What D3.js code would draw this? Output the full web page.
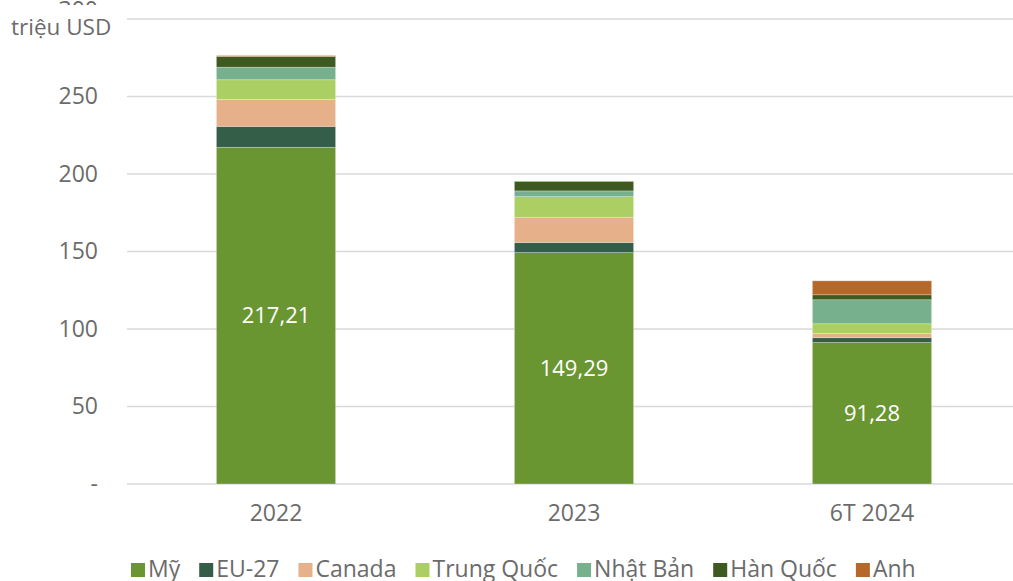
<!DOCTYPE html>
<html>
<head>
<meta charset="utf-8">
<script src="https://cdn.jsdelivr.net/npm/d3@7"></script>
<style>
  body { margin: 0; background: #fff; }
  text { font-family: "Open Sans", sans-serif; }
</style>
</head>
<body>
<div id="chart-area"></div>
<script>
// data
const years = ["2022", "2023", "6T 2024"];
const series = ["Mỹ", "EU-27", "Canada", "Trung Quốc", "Nhật Bản", "Hàn Quốc", "Anh"];
const my      = [217.21, 149.29, 91.28];
const eu27    = [13.5, 6.5, 3.1];
const canada  = [17.4, 16.3, 2.8];
const trungQuoc = [12.7, 13.3, 6.2];
const nhatBan = [8.1, 3.7, 15.5];
const hanQuoc = [6.9, 6.0, 3.2];
const anh     = [0.6, 0.4, 9.0];
const yTicks = [0, 50, 100, 150, 200, 250, 300];
const colors = ["#6a9632", "#355e48", "#e6b08a", "#abcf62", "#76b08c", "#3e5a20", "#b5682a"];

const W = 1013, H = 581;
let margin = { lft: 127, rht: 0, top: 19, bot: 97 };
let width = W - margin.lft - margin.rht;
let height = H - margin.top - margin.bot;

let svg = d3.select("#chart-area")
  .append("svg")
    .attr("width", W)
    .attr("height", H);

let g = svg.append("g")
  .attr("transform", `translate(${margin.lft}, ${margin.top})`);

// table for stacking
let table = years.map((yr, i) => ({
  year: yr,
  "Mỹ": my[i], "EU-27": eu27[i], "Canada": canada[i], "Trung Quốc": trungQuoc[i],
  "Nhật Bản": nhatBan[i], "Hàn Quốc": hanQuoc[i], "Anh": anh[i]
}));
let stacked = d3.stack().keys(series)(table);

let x = d3.scaleBand()
  .domain(years)
  .range([0, 894])
  .paddingInner(0.6)
  .paddingOuter(0.3);

let y = d3.scaleLinear()
  .domain([0, 300])
  .range([height, 0]);

let color = d3.scaleOrdinal().domain(series).range(colors);

// gridlines
g.append("g")
  .selectAll("line")
  .data(yTicks)
  .enter().append("line")
    .attr("x1", 0)
    .attr("x2", W - margin.lft)
    .attr("y1", d => y(d))
    .attr("y2", d => y(d))
    .attr("stroke", "#d9d9d9")
    .attr("stroke-width", 1.5);

// y axis
let yAxisCall = d3.axisLeft(y)
  .tickValues(yTicks)
  .tickSize(0)
  .tickPadding(29)
  .tickFormat(d => d === 0 ? "-" : d);
let yAxis = g.append("g").call(yAxisCall);
yAxis.select(".domain").remove();
yAxis.selectAll("text")
  .attr("font-size", "23px")
  .attr("fill", "#6b6b6b")
  .attr("font-family", "Open Sans, sans-serif");
// the top label sits higher and is mostly hidden in the original
yAxis.selectAll(".tick")
  .filter(d => d === 300)
  .select("text")
    .attr("dy", "-0.05em");

// x axis
let xAxisCall = d3.axisBottom(x).tickSize(0).tickPadding(21);
let xAxis = g.append("g")
  .attr("transform", `translate(0, ${height})`)
  .call(xAxisCall);
xAxis.select(".domain").remove();
xAxis.selectAll("text")
  .attr("font-size", "23px")
  .attr("fill", "#6b6b6b")
  .attr("font-family", "Open Sans, sans-serif");

// unit label with white backing that covers the top tick label
svg.append("rect")
  .attr("x", 0).attr("y", 5)
  .attr("width", 118).attr("height", 40)
  .attr("fill", "#fff");
svg.append("text")
  .attr("x", 11)
  .attr("y", 35)
  .attr("font-size", "22.5px")
  .attr("fill", "#6b6b6b")
  .text("triệu USD");

// bars
g.selectAll("g.layer")
  .data(stacked)
  .enter().append("g")
    .attr("class", "layer")
    .attr("fill", d => color(d.key))
  .selectAll("rect")
  .data(d => d)
  .enter().append("rect")
    .attr("x", d => x(d.data.year))
    .attr("width", x.bandwidth())
    .attr("y", d => y(d[1]))
    .attr("height", d => y(d[0]) - y(d[1]))
    .attr("stroke", "rgba(255,255,255,0.35)")
    .attr("stroke-width", 0.75);

// labels on the Mỹ segment
g.selectAll("text.val")
  .data(stacked[0])
  .enter().append("text")
    .attr("class", "val")
    .attr("x", d => x(d.data.year) + x.bandwidth() / 2)
    .attr("y", d => (y(d[0]) + y(d[1])) / 2)
    .attr("dy", "0.35em")
    .attr("text-anchor", "middle")
    .attr("font-size", "22px")
    .attr("fill", "#fff")
    .text(d => d.data["Mỹ"].toFixed(2).replace(".", ","));

// legend
let legend = svg.append("g").attr("transform", "translate(131, 569)");
let lx = 0;
series.forEach((s, i) => {
  let item = legend.append("g").attr("transform", `translate(${lx}, 0)`);
  item.append("rect")
    .attr("x", 0).attr("y", -6)
    .attr("width", 14).attr("height", 14)
    .attr("fill", colors[i]);
  let t = item.append("text")
    .attr("x", 17)
    .attr("dy", "0.35em")
    .attr("font-size", "23px")
    .attr("fill", "#6b6b6b")
    .text(s);
  lx += 17 + t.node().getComputedTextLength() + 19;
});
</script>
</body>
</html>
